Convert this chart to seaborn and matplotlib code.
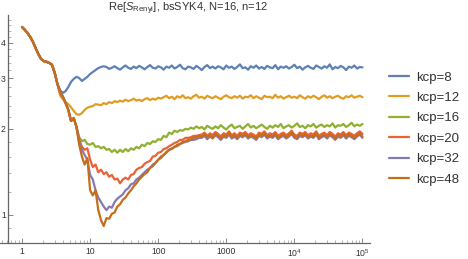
import numpy as np
import pandas as pd
import matplotlib
matplotlib.use("Agg")
import matplotlib.pyplot as plt
import seaborn as sns
from matplotlib.ticker import FixedLocator, FixedFormatter, LogLocator, NullFormatter

# sampling grid (log10 of t), values at these times
log_t = np.round(np.arange(126) * 0.04, 2)
t = 10 ** log_t

labels = ["kcp=8", "kcp=12", "kcp=16", "kcp=20", "kcp=32", "kcp=48"]
colors = ["#5E81B5", "#E19C24", "#8FB032", "#EB6235", "#8778B3", "#C56E1A"]

early = [4.54, 4.44, 4.33, 4.19, 4.03, 3.83, 3.65, 3.51, 3.45, 3.43, 3.40, 3.35, 3.14, 2.87]

kcp8 = early + [2.73, 2.67, 2.71, 2.80, 2.92, 2.99, 3.04, 3.01, 2.94, 2.99, 3.04, 3.11, 3.16, 3.21, 3.26, 3.29, 3.31] + [
    3.29, 3.24, 3.27, 3.31, 3.26, 3.22, 3.28, 3.33, 3.27, 3.24,
    3.30, 3.26, 3.32, 3.28, 3.23, 3.29, 3.34, 3.27, 3.25, 3.31,
    3.28, 3.22, 3.30, 3.27, 3.33, 3.25, 3.29, 3.35, 3.26, 3.23,
    3.30, 3.28, 3.24, 3.32, 3.27, 3.21, 3.29, 3.34, 3.26, 3.30,
    3.25, 3.31, 3.28, 3.23, 3.33, 3.27, 3.30, 3.24, 3.29, 3.36,
    3.26, 3.28, 3.22, 3.31, 3.27, 3.33, 3.25, 3.29, 3.24, 3.32,
    3.28, 3.26, 3.34, 3.23, 3.30, 3.27, 3.31, 3.25, 3.29, 3.35,
    3.26, 3.30, 3.22, 3.28, 3.32, 3.27, 3.24, 3.33, 3.29, 3.25,
    3.31, 3.27, 3.36, 3.23, 3.29, 3.26, 3.32, 3.28, 3.21, 3.30,
    3.27, 3.33, 3.25, 3.29, 3.28]

kcp12 = early + [2.61, 2.54, 2.48, 2.44, 2.38, 2.31, 2.25, 2.24, 2.27, 2.33, 2.37, 2.39, 2.40, 2.44, 2.43, 2.42,
                 2.46, 2.44, 2.48, 2.46, 2.50, 2.48] + [
    2.51, 2.49, 2.53, 2.50, 2.52, 2.55, 2.51, 2.53, 2.50, 2.54, 2.56, 2.52, 2.55, 2.53, 2.57] + [
    2.55, 2.58, 2.61, 2.56, 2.59, 2.54, 2.60, 2.57, 2.62, 2.56,
    2.58, 2.55, 2.60, 2.63, 2.57, 2.59, 2.55, 2.61, 2.58, 2.56,
    2.60, 2.57, 2.54, 2.59, 2.62, 2.58, 2.56, 2.60, 2.57, 2.61,
    2.55, 2.59, 2.58, 2.62, 2.56, 2.60, 2.57, 2.54, 2.61, 2.58,
    2.59, 2.56, 2.63, 2.57, 2.60, 2.55, 2.58, 2.61, 2.57, 2.59,
    2.56, 2.62, 2.58, 2.55, 2.60, 2.57, 2.61, 2.58, 2.54, 2.59,
    2.62, 2.57, 2.60, 2.56, 2.59, 2.61, 2.57, 2.55, 2.60, 2.58,
    2.62, 2.57, 2.59, 2.61, 2.58]

lower_common = [2.69, 2.59, 2.46, 2.33, 2.13, 2.18, 2.03]

kcp16 = early + lower_common + [
    1.87, 1.81, 1.83, 1.77, 1.76, 1.785, 1.73, 1.74, 1.71, 1.73,
    1.69, 1.70, 1.66, 1.69, 1.65, 1.69, 1.66, 1.70, 1.67, 1.71,
    1.69, 1.73, 1.71, 1.76, 1.74, 1.785, 1.77, 1.81, 1.80, 1.84,
    1.83, 1.89, 1.87, 1.94, 1.92, 1.97, 1.95, 1.98, 1.97, 2.00,
    1.99, 2.02] + [
    2.00, 2.04, 2.01, 2.03, 1.99, 2.05, 2.02, 2.00, 2.04, 2.01,
    2.06, 2.02, 1.99, 2.04, 2.07, 2.01, 2.03, 2.05, 2.00, 2.04,
    2.08, 2.02, 2.05, 2.01, 2.04, 2.07, 2.03, 2.00, 2.05, 2.02,
    2.06, 2.03, 2.08, 2.01, 2.04, 2.06, 2.02, 2.05, 2.09, 2.03,
    2.05, 2.01, 2.06, 2.04, 2.08, 2.02, 2.05, 2.07, 2.03, 2.06,
    2.04, 2.09, 2.02, 2.06, 2.05, 2.08, 2.03, 2.06, 2.10, 2.04,
    2.07, 2.05, 2.08]

kcp20 = early + lower_common + [
    1.83, 1.73, 1.69, 1.71, 1.56, 1.47, 1.50, 1.41, 1.44, 1.39,
    1.41, 1.36, 1.38, 1.33, 1.34, 1.29, 1.33, 1.35, 1.33, 1.38,
    1.39, 1.44, 1.46, 1.47, 1.51, 1.53, 1.545, 1.60, 1.61, 1.65,
    1.66, 1.70, 1.71, 1.74, 1.76, 1.785, 1.80, 1.83, 1.83, 1.86,
    1.86, 1.87, 1.89, 1.89, 1.90] + [
    1.91, 1.94, 1.89, 1.93, 1.90, 1.95, 1.92, 1.88, 1.93, 1.91,
    1.96, 1.90, 1.93, 1.89, 1.94, 1.92, 1.95, 1.90, 1.93, 1.91,
    1.88, 1.94, 1.92, 1.96, 1.90, 1.93, 1.91, 1.95, 1.89, 1.92,
    1.94, 1.90, 1.93, 1.97, 1.91, 1.89, 1.94, 1.92, 1.95, 1.90,
    1.93, 1.91, 1.96, 1.89, 1.92, 1.94, 1.90, 1.95, 1.92, 1.88,
    1.93, 1.91, 1.95, 1.90, 1.94, 1.92, 1.89, 1.93, 1.96, 1.92]

kcp32 = early + lower_common + [
    1.80, 1.69, 1.62, 1.56, 1.38, 1.33, 1.22, 1.15, 1.11, 1.07,
    1.04, 1.07, 1.06, 1.11, 1.14, 1.16, 1.18, 1.22, 1.24, 1.28,
    1.29, 1.33, 1.35, 1.38, 1.41, 1.44, 1.46, 1.50, 1.52, 1.56,
    1.58, 1.62, 1.65, 1.69, 1.70, 1.73, 1.74, 1.77, 1.785, 1.80,
    1.81, 1.83, 1.83, 1.84, 1.86] + [
    1.86, 1.89, 1.84, 1.88, 1.85, 1.90, 1.87, 1.83, 1.88, 1.86,
    1.91, 1.85, 1.88, 1.84, 1.89, 1.87, 1.90, 1.85, 1.88, 1.86,
    1.83, 1.89, 1.87, 1.91, 1.85, 1.88, 1.86, 1.90, 1.84, 1.87,
    1.89, 1.85, 1.88, 1.92, 1.86, 1.84, 1.89, 1.87, 1.90, 1.85,
    1.88, 1.86, 1.91, 1.84, 1.87, 1.89, 1.85, 1.90, 1.87, 1.83,
    1.88, 1.86, 1.90, 1.85, 1.89, 1.87, 1.84, 1.88, 1.91, 1.86]

kcp48 = early + lower_common + [
    1.76, 1.60, 1.50, 1.58, 1.22, 1.17, 1.22, 1.04, 0.96, 0.915,
    0.975, 0.97, 1.01, 1.02, 1.07, 1.09, 1.13, 1.15, 1.19, 1.22,
    1.26, 1.29, 1.33, 1.36, 1.39, 1.41, 1.46, 1.48, 1.52, 1.56,
    1.60, 1.62, 1.66, 1.69, 1.71, 1.73, 1.76, 1.77, 1.80, 1.81,
    1.83, 1.84, 1.86, 1.87, 1.89] + [
    1.88, 1.91, 1.87, 1.90, 1.86, 1.92, 1.89, 1.85, 1.90, 1.88,
    1.93, 1.87, 1.90, 1.86, 1.91, 1.89, 1.92, 1.87, 1.90, 1.88,
    1.85, 1.91, 1.89, 1.93, 1.87, 1.90, 1.88, 1.92, 1.86, 1.89,
    1.91, 1.87, 1.90, 1.94, 1.88, 1.86, 1.91, 1.89, 1.92, 1.87,
    1.90, 1.88, 1.93, 1.86, 1.89, 1.91, 1.87, 1.92, 1.89, 1.85,
    1.90, 1.88, 1.92, 1.87, 1.91, 1.89, 1.86, 1.90, 1.93, 1.88]

series = [kcp8, kcp12, kcp16, kcp20, kcp32, kcp48]

xtick_vals = [1, 10, 100, 1000, 1e4, 1e5]
xtick_labels = ["1", "10", "100", "1000", r"$10^4$", r"$10^5$"]
ytick_vals = [1, 2, 3, 4]
ytick_labels = ["1", "2", "3", "4"]
title = r"Re[$S_{\mathrm{Renyi}}$], bsSYK4, N=16, n=12"

frames = []
for lab, vals in zip(labels, series):
    frames.append(pd.DataFrame({"t": t, "S": vals, "kcp": lab}))
df = pd.concat(frames, ignore_index=True)

sns.set_style("white")
plt.rcParams["font.family"] = ["Liberation Sans", "DejaVu Sans"]
plt.rcParams["mathtext.fontset"] = "custom"
plt.rcParams["mathtext.rm"] = "Liberation Sans"
plt.rcParams["mathtext.it"] = "Liberation Sans:italic"

W, H = 468, 259
fig = plt.figure(figsize=(W / 100, H / 100), dpi=100)
ax = fig.add_axes([0, 16 / H, 370 / W, 228 / H])

sns.lineplot(data=df, x="t", y="S", hue="kcp", hue_order=labels, palette=colors,
             estimator=None, linewidth=1.6, ax=ax, legend=False, sort=False)

ax.set_xscale("log")
ax.set_yscale("log")
ax.set_xlim(0.475, 1.29e5)
ax.set_ylim(0.798, 5.0)

for s in ["top", "right"]:
    ax.spines[s].set_visible(False)
ax.spines["left"].set_position(("data", 0.622))
for s in ["left", "bottom"]:
    ax.spines[s].set_color("#666666")
    ax.spines[s].set_linewidth(0.9)

ax.xaxis.set_major_locator(FixedLocator(xtick_vals))
ax.xaxis.set_major_formatter(FixedFormatter(xtick_labels))
ax.xaxis.set_minor_locator(LogLocator(base=10, subs=np.arange(2, 10), numticks=20))
ax.xaxis.set_minor_formatter(NullFormatter())
ax.yaxis.set_major_locator(FixedLocator(ytick_vals))
ax.yaxis.set_major_formatter(FixedFormatter(ytick_labels))
ax.yaxis.set_minor_locator(FixedLocator([0.8, 0.9, 1.2, 1.4, 1.6, 1.8, 2.2, 2.4, 2.6, 2.8,
                                         3.2, 3.4, 3.6, 3.8, 4.2, 4.4, 4.6, 4.8]))
ax.yaxis.set_minor_formatter(NullFormatter())
ax.tick_params(axis="both", which="both", bottom=True, left=True, top=False, right=False)
ax.tick_params(axis="both", which="major", direction="in", length=3.5, width=0.7,
               color="#888888", labelsize=6.2, labelcolor="#333333")
ax.tick_params(axis="both", which="minor", direction="in", length=2, width=0.5, color="#999999")
ax.tick_params(axis="x", which="major", pad=3)
ax.tick_params(axis="y", which="major", pad=1.5)
ax.set_xlabel("")
ax.set_ylabel("")

fig.text(188 / W, 1 - 9 / H, title, ha="center", va="center", fontsize=8, color="#333333")

handles = ax.get_lines()[:len(labels)]
fig.legend(handles, labels, loc="center left", bbox_to_anchor=(389 / W, 1 - 128.5 / H),
           frameon=False, fontsize=9.5, handlelength=1.55, handletextpad=0.5,
           labelspacing=0.62, borderpad=0, borderaxespad=0, labelcolor="#333333")

fig.savefig("out.png", dpi=100)
